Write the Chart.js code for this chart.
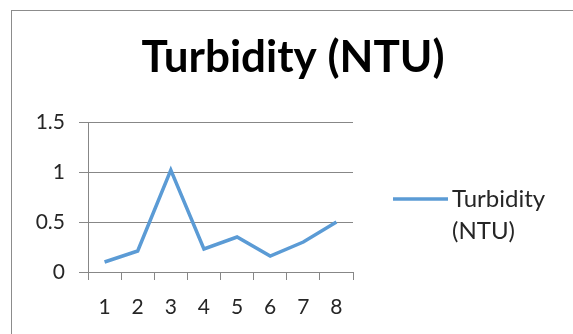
<!DOCTYPE html>
<html>
<head>
<meta charset="utf-8">
<script src="https://cdn.jsdelivr.net/npm/chart.js@4/dist/chart.umd.min.js"></script>
<style>
   html, body { margin: 0; padding: 0; background: #fff; overflow: hidden; }
   #wrap { position: relative; width: 573px; height: 334px; }
   #frame { position: absolute; left: 11px; top: 10px; width: 700px; height: 500px; border: 1px solid #8c8c8c; }
   #chart { position: absolute; left: 0; top: 0; }
</style>
</head>
<body>
<div id="wrap">
   <div id="frame"></div>
   <canvas id="chart" width="573" height="334"></canvas>
</div>
<script>
const categories = ["1", "2", "3", "4", "5", "6", "7", "8"];
const turbidity = [0.1, 0.21, 1.02, 0.23, 0.35, 0.16, 0.3, 0.5];
const yTicks = [0, 0.5, 1, 1.5];
const seriesName = "Turbidity (NTU)";
const legendLines = ["Turbidity", "(NTU)"];

const FONT = "Lato, 'Open Sans', sans-serif";
const LINE_BLUE = "#5b9bd5";
const GRID = "#878787";
const INK = "#262626";

// title + legend drawn by hand: the title is centred on the whole frame
// (not only the plot) and the legend label wraps on two lines
const frameText = {
   id: "frameText",
   afterDraw(chart) {
      const { ctx, chartArea } = chart;
      ctx.save();

      ctx.fillStyle = "#000";
      ctx.font = `bold 44px ${FONT}`;
      ctx.textAlign = "center";
      ctx.textBaseline = "alphabetic";
      ctx.fillText(seriesName, chartArea.left + 205, chartArea.top - 50);

      const x0 = chartArea.right + 40;
      const yMid = (chartArea.top + chartArea.bottom) / 2 + 2;
      ctx.strokeStyle = LINE_BLUE;
      ctx.lineWidth = 3.5;
      ctx.beginPath();
      ctx.moveTo(x0, yMid);
      ctx.lineTo(x0 + 55, yMid);
      ctx.stroke();
      ctx.fillStyle = INK;
      ctx.font = `24px ${FONT}`;
      ctx.textAlign = "left";
      ctx.textBaseline = "middle";
      legendLines.forEach((t, i) => ctx.fillText(t, x0 + 59, yMid + i * 32));
      ctx.restore();
   },
};

new Chart(document.getElementById("chart").getContext("2d"), {
   type: "line",
   data: {
      labels: categories,
      datasets: [{
         label: seriesName,
         data: turbidity,
         borderColor: LINE_BLUE,
         backgroundColor: LINE_BLUE,
         borderWidth: 3.5,
         pointRadius: 0,
         tension: 0,
         fill: false,
      }],
   },
   options: {
      responsive: false,
      animation: false,
      layout: { padding: { left: 11, right: 220, top: 122, bottom: 0 } },
      plugins: {
         legend: { display: false },
         tooltip: { enabled: false },
         title: { display: false },
      },
      scales: {
         x: {
            offset: true,
            grid: { offset: true, drawOnChartArea: false, drawTicks: true, tickLength: 8, color: GRID },
            border: { display: true, color: GRID },
            ticks: { color: INK, font: { family: FONT, size: 21 }, padding: 15, maxRotation: 0 },
            afterFit: (s) => { s.height = 62; },
         },
         y: {
            min: 0,
            max: 1.5,
            afterBuildTicks: (s) => { s.ticks = yTicks.map((v) => ({ value: v })); },
            grid: { color: GRID, tickLength: 9, drawTicks: true },
            border: { display: true, color: GRID },
            ticks: { color: INK, font: { family: FONT, size: 21 }, padding: 14, callback: (v) => String(v) },
            afterFit: (s) => { s.width = 77; },
         },
      },
   },
   plugins: [frameText],
});
</script>
</body>
</html>
